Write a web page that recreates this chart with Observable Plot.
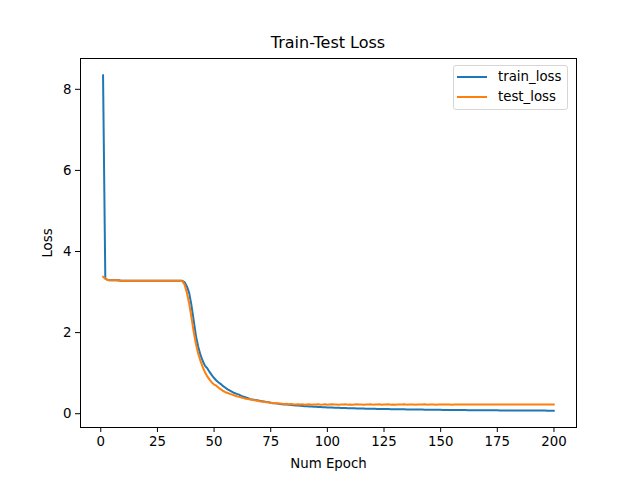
<!DOCTYPE html>
<html>
<head>
<meta charset="utf-8">
<script src="https://cdn.jsdelivr.net/npm/d3@7"></script>
<script src="https://cdn.jsdelivr.net/npm/@observablehq/plot@0.6"></script>
<style>
  body { margin: 0; background: #fff; font-family: "DejaVu Sans", sans-serif; }
  #wrap { position: relative; width: 640px; height: 480px; }
  #title { position: absolute; left: 80px; width: 496px; top: 33px; height: 20px; line-height: 20px; text-align: center; font-size: 16px; color: #000; }
  #chart { position: absolute; left: 0; top: 53px; }
  #legend { position: absolute; left: 453px; top: 65px; width: 115px; height: 45px; border: 1px solid #d6d6d6; border-radius: 3px; background: rgba(255,255,255,0.8); box-sizing: border-box; font-size: 13.33px; }
  .row { position: absolute; left: 0; height: 20px; line-height: 20px; }
  .sw { position: absolute; left: 3px; top: 9px; width: 30px; height: 2px; }
  .lab { position: absolute; left: 44px; top: 0; white-space: nowrap; color: #000; }
</style>
</head>
<body>
<div id="wrap">
  <div id="title">Train-Test Loss</div>
  <div id="chart"></div>
  <div id="legend"></div>
</div>
<script>
const seriesNames = ["train_loss", "test_loss"];
const seriesColors = ["#1f77b4", "#ff7f0e"];
const xTicks = [0, 25, 50, 75, 100, 125, 150, 175, 200];
const yTicks = [0, 2, 4, 6, 8];
const epochs = d3.range(1, 201);

const trainLoss = [
  8.35, 3.33, 3.30, 3.29, 3.29, 3.29, 3.29, 3.29, 3.28, 3.28,
  3.28, 3.28, 3.28, 3.28, 3.28, 3.28, 3.28, 3.28, 3.28, 3.28,
  3.28, 3.28, 3.28, 3.28, 3.28, 3.28, 3.28, 3.28, 3.28, 3.28,
  3.28, 3.28, 3.28, 3.28, 3.28, 3.28, 3.24, 3.14, 2.98, 2.68,
  2.30, 1.92, 1.65, 1.45, 1.30, 1.18, 1.12, 1.03, 0.95, 0.88,
  0.82, 0.77, 0.73, 0.68, 0.64, 0.60, 0.57, 0.54, 0.51, 0.49,
  0.47, 0.44, 0.42, 0.40, 0.38, 0.36, 0.35, 0.34, 0.33, 0.32,
  0.31, 0.30, 0.29, 0.28, 0.27, 0.26, 0.255, 0.25, 0.24, 0.235,
  0.23, 0.225, 0.22, 0.215, 0.21, 0.205, 0.20, 0.195, 0.19, 0.186,
  0.182, 0.178, 0.175, 0.172, 0.169, 0.166, 0.163, 0.16, 0.157, 0.155,
  0.153, 0.151, 0.149, 0.147, 0.145, 0.143, 0.141, 0.139, 0.137, 0.135,
  0.134, 0.132, 0.131, 0.129, 0.128, 0.126, 0.125, 0.124, 0.122, 0.121,
  0.120, 0.119, 0.118, 0.117, 0.116, 0.115, 0.114, 0.113, 0.112, 0.111,
  0.110, 0.109, 0.108, 0.107, 0.106, 0.105, 0.105, 0.104, 0.103, 0.102,
  0.101, 0.101, 0.100, 0.099, 0.098, 0.098, 0.097, 0.096, 0.096, 0.095,
  0.094, 0.094, 0.093, 0.093, 0.092, 0.091, 0.091, 0.090, 0.090, 0.089,
  0.089, 0.088, 0.088, 0.087, 0.087, 0.086, 0.086, 0.085, 0.085, 0.085,
  0.084, 0.084, 0.083, 0.083, 0.083, 0.082, 0.082, 0.082, 0.081, 0.081,
  0.081, 0.080, 0.080, 0.080, 0.079, 0.079, 0.079, 0.079, 0.078, 0.078,
  0.078, 0.078, 0.077, 0.077, 0.077, 0.077, 0.076, 0.076, 0.076, 0.076
];

const testLoss = [
  3.38, 3.33, 3.30, 3.29, 3.29, 3.29, 3.29, 3.28, 3.28, 3.28,
  3.28, 3.28, 3.28, 3.28, 3.28, 3.28, 3.28, 3.28, 3.28, 3.28,
  3.28, 3.28, 3.28, 3.28, 3.28, 3.28, 3.28, 3.28, 3.28, 3.28,
  3.28, 3.28, 3.28, 3.28, 3.28, 3.27, 3.18, 2.98, 2.72, 2.38,
  2.02, 1.72, 1.48, 1.30, 1.15, 1.02, 0.92, 0.84, 0.77, 0.72,
  0.69, 0.64, 0.60, 0.56, 0.53, 0.51, 0.49, 0.47, 0.45, 0.43,
  0.415, 0.40, 0.385, 0.37, 0.36, 0.35, 0.34, 0.33, 0.32, 0.31,
  0.30, 0.295, 0.285, 0.28, 0.27, 0.265, 0.26, 0.255, 0.25, 0.245,
  0.24, 0.245, 0.235, 0.24, 0.232, 0.228, 0.235, 0.226, 0.231, 0.224,
  0.229, 0.233, 0.222, 0.230, 0.226, 0.232, 0.224, 0.228, 0.235, 0.223,
  0.227, 0.231, 0.225, 0.229, 0.222, 0.230, 0.226, 0.233, 0.224, 0.228,
  0.221, 0.229, 0.236, 0.225, 0.227, 0.223, 0.230, 0.226, 0.232, 0.224,
  0.228, 0.225, 0.231, 0.223, 0.229, 0.226, 0.233, 0.224, 0.228, 0.222,
  0.230, 0.227, 0.225, 0.231, 0.224, 0.228, 0.226, 0.230, 0.223, 0.229,
  0.225, 0.227, 0.232, 0.224, 0.228, 0.226, 0.229, 0.224, 0.227, 0.230,
  0.225, 0.228, 0.226, 0.229, 0.224, 0.227, 0.225, 0.228, 0.226, 0.229,
  0.225, 0.227, 0.226, 0.228, 0.225, 0.227, 0.229, 0.226, 0.228, 0.225,
  0.227, 0.226, 0.228, 0.227, 0.225, 0.228, 0.226, 0.227, 0.229, 0.226,
  0.227, 0.225, 0.228, 0.226, 0.227, 0.228, 0.226, 0.227, 0.225, 0.228,
  0.227, 0.226, 0.228, 0.227, 0.226, 0.227, 0.228, 0.226, 0.227, 0.227
];

const rows = epochs.map((e, i) => ({epoch: e, train: trainLoss[i], test: testLoss[i]}));

const chart = Plot.plot({
  width: 640,
  height: 427,
  marginLeft: 80,
  marginRight: 64,
  marginTop: 5,
  marginBottom: 53,
  style: {fontFamily: "DejaVu Sans, sans-serif", fontSize: "13.33px", color: "#000", background: "#fff", overflow: "visible"},
  x: {domain: [-8.95, 209.95]},
  y: {domain: [-0.34, 8.76]},
  marks: [
    Plot.axisX({ticks: xTicks, tickSize: 5, tickPadding: 4, tickFormat: d => String(d), label: "Num Epoch", labelAnchor: "center", labelArrow: "none", labelOffset: 40, stroke: "#000", strokeWidth: 1, strokeOpacity: 1}),
    Plot.axisY({ticks: yTicks, tickSize: 5, tickPadding: 4, tickFormat: d => String(d), label: "Loss", labelAnchor: "center", labelArrow: "none", labelOffset: 38, stroke: "#000", strokeWidth: 1, strokeOpacity: 1}),
    Plot.lineY(rows, {x: "epoch", y: "train", stroke: seriesColors[0], strokeWidth: 2}),
    Plot.lineY(rows, {x: "epoch", y: "test", stroke: seriesColors[1], strokeWidth: 2}),
    Plot.frame({stroke: "#000", strokeWidth: 1})
  ]
});
document.getElementById("chart").appendChild(chart);

const legend = document.getElementById("legend");
seriesNames.forEach((name, i) => {
  const row = document.createElement("div");
  row.className = "row";
  row.style.top = (1 + i * 20) + "px";
  row.innerHTML = `<span class="sw" style="background:${seriesColors[i]}"></span><span class="lab">${name}</span>`;
  legend.appendChild(row);
});
</script>
</body>
</html>
